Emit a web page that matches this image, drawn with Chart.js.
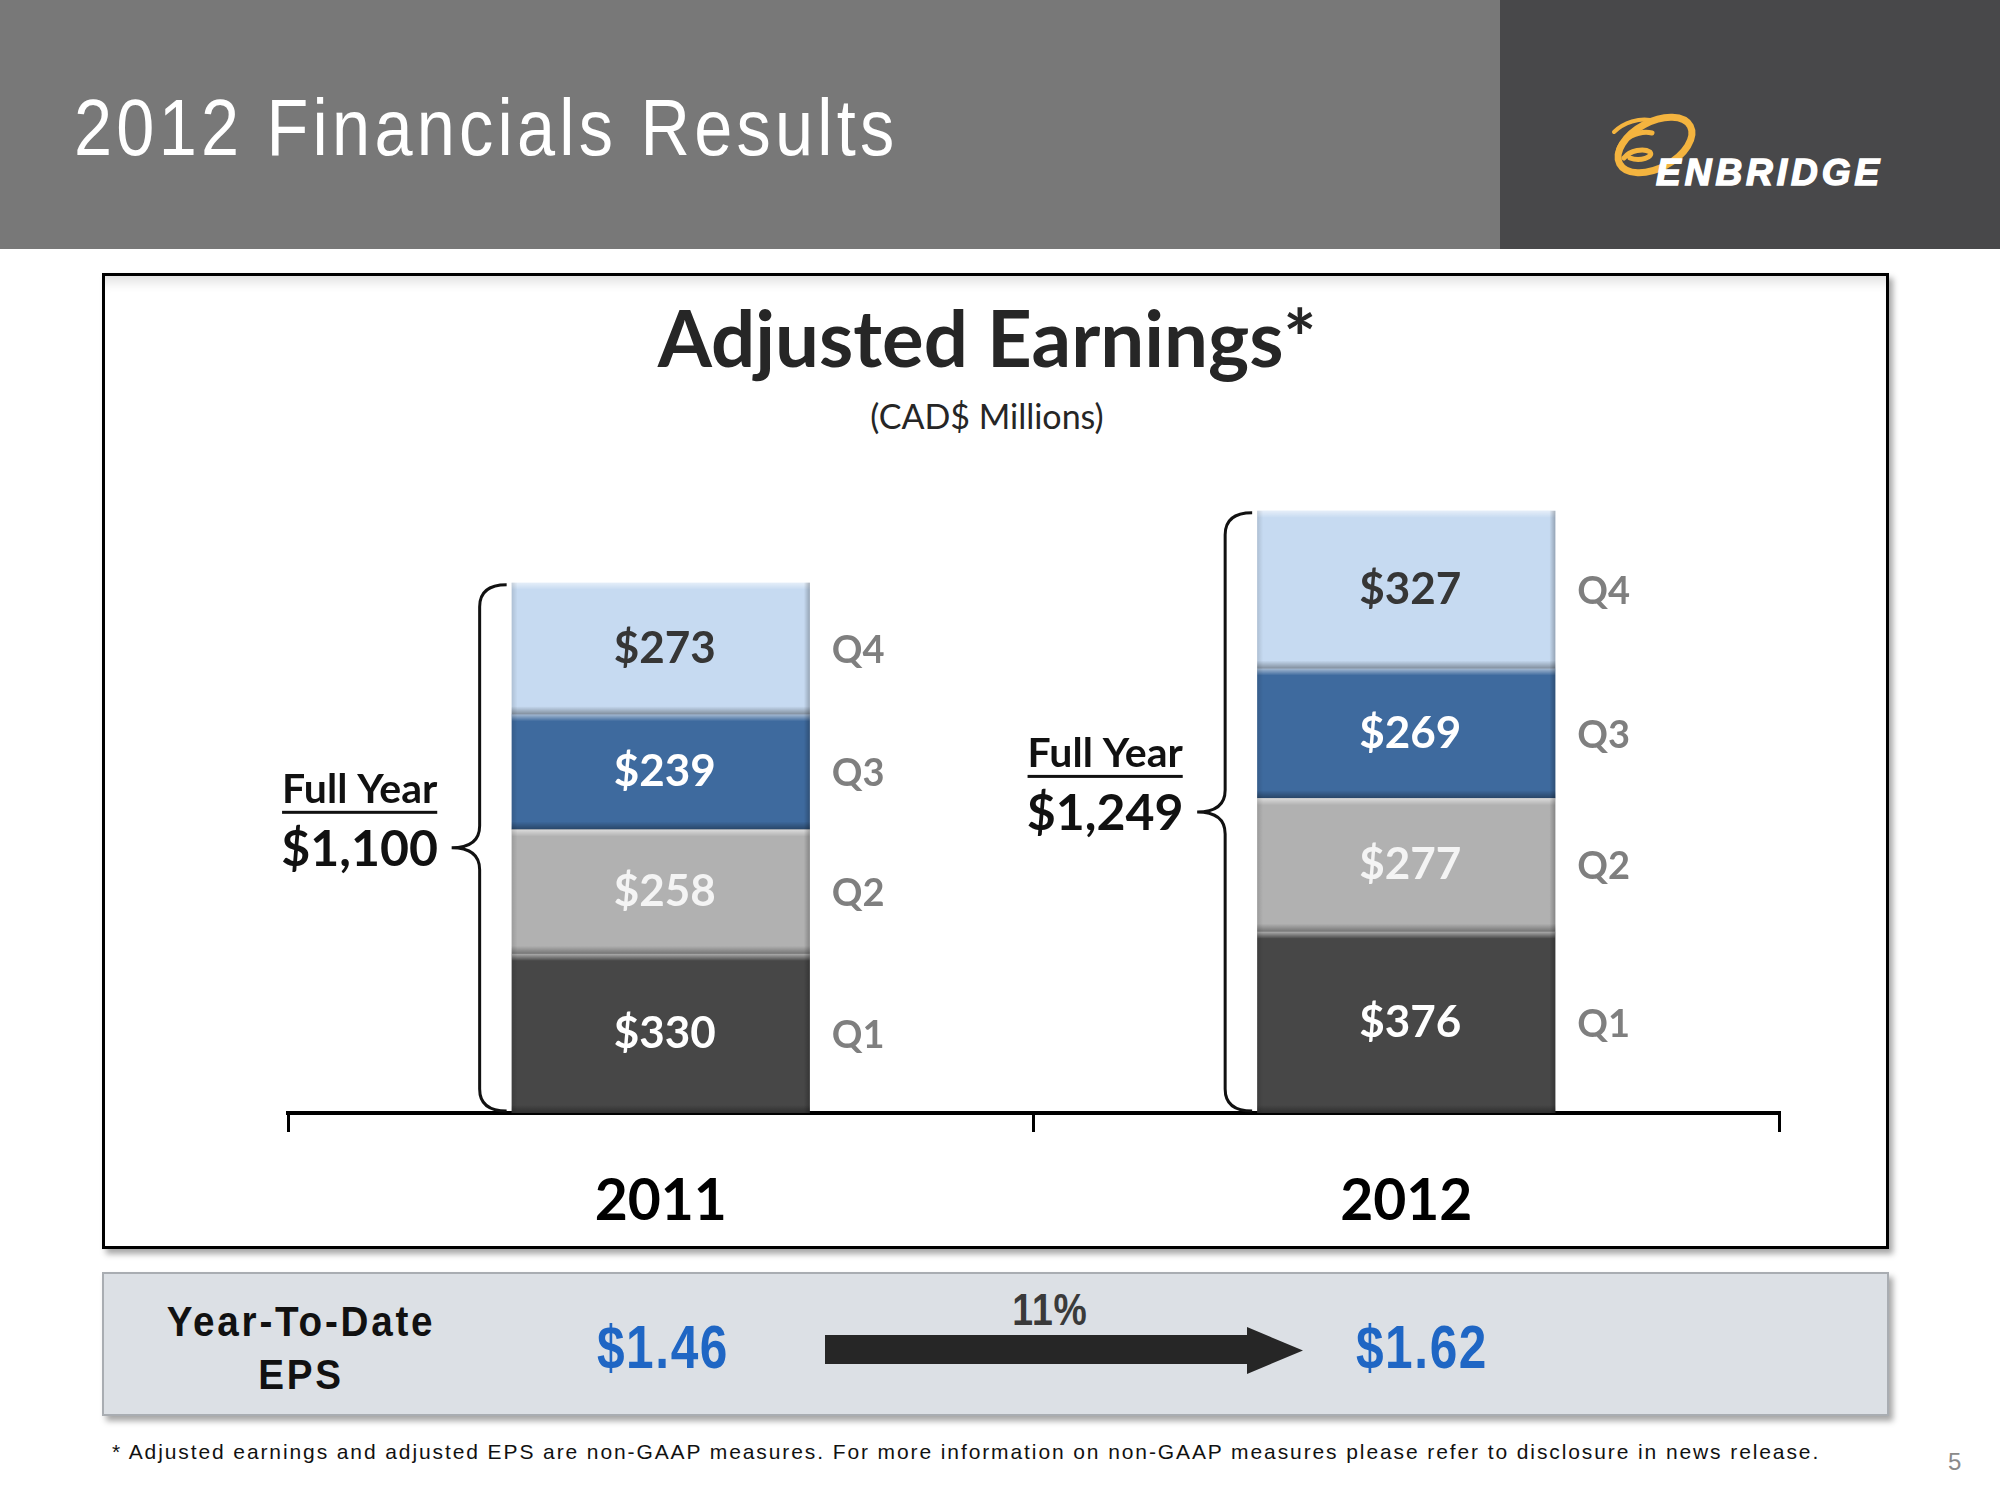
<!DOCTYPE html>
<html>
<head>
<meta charset="utf-8">
<script src="https://cdn.jsdelivr.net/npm/chart.js@4/dist/chart.umd.min.js"></script>
<style>
  html, body { margin:0; padding:0; }
  body { width:2000px; height:1500px; position:relative; background:#ffffff; overflow:hidden; font-family:"Liberation Sans", Arial, sans-serif; }
  #hdrL { position:absolute; left:0; top:0; width:1500px; height:249px; background:#787878; }
  #hdrR { position:absolute; left:1500px; top:0; width:500px; height:249px; background:#48484a; }
  #title { position:absolute; left:74px; top:88px; font-family:"Liberation Sans",Arial,sans-serif; font-size:80px; letter-spacing:5px; color:#ffffff; line-height:1; white-space:nowrap; transform:scaleX(0.855); transform-origin:0 0; }
  #logo { position:absolute; left:1600px; top:100px; }
  #box { position:absolute; left:102px; top:273px; width:1787px; height:976px; box-sizing:border-box; border:3px solid #000; background:#fff;
         box-shadow: 4px 5px 6px rgba(0,0,0,0.35), inset 0 14px 12px -8px rgba(0,0,0,0.12); }
  #chartWrap { position:absolute; left:102px; top:273px; width:1787px; height:976px; }
  #ctitle { position:absolute; left:0; width:1974px; text-align:center; top:298px; font-family:Lato, sans-serif; font-weight:bold; font-size:78px; color:#262626; line-height:1; }
  #csub { position:absolute; left:0; width:1974px; text-align:center; top:399px; font-family:Lato, sans-serif; font-size:34px; color:#262626; line-height:1; }
  #panel { position:absolute; left:102px; top:1272px; width:1787px; height:144px; box-sizing:border-box; background:#dce0e5; border:2px solid #a9adb2;
           box-shadow: 4px 5px 6px rgba(0,0,0,0.35); }
  .nar { font-family:"Liberation Sans",Arial,sans-serif; font-weight:bold; position:absolute; white-space:nowrap; line-height:1; transform-origin:50% 50%; }
  #ytd { left:101px; width:400px; text-align:center; top:1296px; font-size:42px; letter-spacing:3px; color:#111; line-height:1.25; transform:scaleX(0.92); }
  #e1 { left:563px; width:200px; text-align:center; top:1316px; font-size:62px; letter-spacing:2px; color:#1f66c4; transform:scaleX(0.8); }
  #e2 { left:1322px; width:200px; text-align:center; top:1316px; font-size:62px; letter-spacing:2px; color:#1f66c4; transform:scaleX(0.8); }
  #pct { left:970px; width:160px; text-align:center; top:1288px; font-size:44px; letter-spacing:1px; color:#3a3a3a; transform:scaleX(0.85); }
  #arrow { position:absolute; left:825px; top:1327px; }
  #foot { position:absolute; left:112px; top:1441px; font-family:"Liberation Sans", Arial, sans-serif; font-size:21px; letter-spacing:1.9px; color:#111; white-space:nowrap; line-height:1; }
  #pg { position:absolute; left:1948px; top:1450px; font-family:"Liberation Sans", Arial, sans-serif; font-size:24px; color:#8a8a8a; line-height:1; }
</style>
</head>
<body>
<div id="hdrL"></div>
<div id="hdrR"></div>
<div id="title">2012 Financials Results</div>
<svg id="logo" width="300" height="100" viewBox="0 0 300 100">
  <g fill="none" stroke="#f4b43f" stroke-linecap="round">
    <ellipse cx="55" cy="45" rx="40" ry="23" transform="rotate(-28 55 45)" stroke-width="7"/>
    <path d="M18 52 C 20 38, 40 30, 52 33" stroke-width="5"/>
    <path d="M24 58 C 30 50, 44 48, 50 52 C 54 57, 40 62, 30 58" stroke-width="5"/>
    <path d="M14 32 C 24 22, 40 18, 50 20" stroke-width="4"/>
  </g>
  <text x="56" y="85" font-family="Liberation Sans, Arial, sans-serif" font-weight="bold" font-style="italic" font-size="37" letter-spacing="4" fill="#ffffff" stroke="#ffffff" stroke-width="1.5">ENBRIDGE</text>
</svg>

<div id="box"></div>
<div id="ctitle">Adjusted Earnings*</div>
<div id="csub">(CAD$ Millions)</div>
<div id="chartWrap"><canvas id="c"></canvas></div>

<div id="panel"></div>
<div id="ytd" class="nar">Year-To-Date<br>EPS</div>
<div id="e1" class="nar">$1.46</div>
<div id="pct" class="nar">11%</div>
<svg id="arrow" width="480" height="50" viewBox="0 0 480 50">
  <polygon points="0,8 422,8 422,0 478,23.5 422,47 422,37 0,37" fill="#262626"/>
</svg>
<div id="e2" class="nar">$1.62</div>
<div id="foot">* Adjusted earnings and adjusted EPS are non-GAAP measures. For more information on non-GAAP measures please refer to disclosure in news release.</div>
<div id="pg">5</div>

<script>
// ---- data ----
const years = ["2011", "2012"];
const quarters = ["Q1", "Q2", "Q3", "Q4"];
const q1 = [330, 376];
const q2 = [258, 277];
const q3 = [239, 269];
const q4 = [273, 327];
const fullYear = ["$1,100", "$1,249"];

const colors = ["#474747", "#b1b1b1", "#3e6a9e", "#c6daf1"];
const labelColors = ["#ffffff", "#f4f4f4", "#ffffff", "#363636"];
const series = [q1, q2, q3, q4];

const FONT = "Lato, 'Open Sans', sans-serif";

const overlay = {
  id: "overlay",
  afterDatasetsDraw(chart) {
    const ctx = chart.ctx;
    // bevel effect on each bar
    chart.data.datasets.forEach((ds, di) => {
      const meta = chart.getDatasetMeta(di);
      meta.data.forEach((bar) => {
        const p = bar.getProps(["x", "y", "base", "width"], true);
        const l = p.x - p.width / 2, r = p.x + p.width / 2, t = p.y, b = p.base;
        ctx.save();
        let g = ctx.createLinearGradient(0, t, 0, t + 7);
        g.addColorStop(0, "rgba(255,255,255,0.55)");
        g.addColorStop(1, "rgba(255,255,255,0)");
        ctx.fillStyle = g; ctx.fillRect(l, t, r - l, 7);
        g = ctx.createLinearGradient(0, b - 8, 0, b);
        g.addColorStop(0, "rgba(0,0,0,0)");
        g.addColorStop(1, "rgba(0,0,0,0.35)");
        ctx.fillStyle = g; ctx.fillRect(l, b - 8, r - l, 8);
        g = ctx.createLinearGradient(l, 0, l + 6, 0);
        g.addColorStop(0, "rgba(0,0,0,0.12)");
        g.addColorStop(1, "rgba(0,0,0,0)");
        ctx.fillStyle = g; ctx.fillRect(l, t, 6, b - t);
        g = ctx.createLinearGradient(r - 6, 0, r, 0);
        g.addColorStop(0, "rgba(0,0,0,0)");
        g.addColorStop(1, "rgba(0,0,0,0.25)");
        ctx.fillStyle = g; ctx.fillRect(r - 6, t, 6, b - t);
        ctx.restore();
      });
    });
    // value labels and quarter labels
    chart.data.datasets.forEach((ds, di) => {
      const meta = chart.getDatasetMeta(di);
      meta.data.forEach((bar, i) => {
        const p = bar.getProps(["x", "y", "base", "width"], true);
        const cy = (p.y + p.base) / 2;
        ctx.save();
        ctx.textBaseline = "middle";
        ctx.textAlign = "center";
        ctx.font = "bold 44px " + FONT;
        ctx.fillStyle = labelColors[di];
        ctx.fillText("$" + ds.data[i], p.x + 4, cy);
        ctx.textAlign = "left";
        ctx.font = "bold 38px " + FONT;
        ctx.fillStyle = "#7f7f7f";
        ctx.fillText(quarters[di], p.x + p.width / 2 + 22, cy + 2);
        ctx.restore();
      });
    });
    // braces and full-year labels
    const first = chart.getDatasetMeta(0);
    const last = chart.getDatasetMeta(chart.data.datasets.length - 1);
    first.data.forEach((bar, i) => {
      const pb = bar.getProps(["x", "base", "width"], true);
      const pt = last.data[i].getProps(["y"], true);
      const left = pb.x - pb.width / 2;
      const top = pt.y + 2, bot = pb.base - 2;
      const bx = left - 32, ex = left - 5, tip = left - 60;
      const mid = (top + bot) / 2;
      ctx.save();
      ctx.strokeStyle = "#111"; ctx.lineWidth = 3;
      ctx.beginPath();
      ctx.moveTo(ex, top);
      ctx.quadraticCurveTo(bx, top, bx, top + 22);
      ctx.lineTo(bx, mid - 22);
      ctx.quadraticCurveTo(bx, mid, tip, mid);
      ctx.quadraticCurveTo(bx, mid, bx, mid + 22);
      ctx.lineTo(bx, bot - 22);
      ctx.quadraticCurveTo(bx, bot, ex, bot);
      ctx.stroke();
      // labels
      const cx = tip - 92;
      ctx.fillStyle = "#111";
      ctx.textAlign = "center";
      ctx.textBaseline = "middle";
      ctx.font = "bold 50px " + FONT;
      ctx.fillText(fullYear[i], cx, mid + 2);
      ctx.font = "bold 41px " + FONT;
      ctx.fillText("Full Year", cx, mid - 58);
      const w = ctx.measureText("Full Year").width;
      ctx.fillRect(cx - w / 2, mid - 37, w, 3);
      ctx.restore();
    });
  }
};

new Chart(document.getElementById("c"), {
  type: "bar",
  data: {
    labels: years,
    datasets: series.map((s, i) => ({
      label: quarters[i],
      data: s,
      backgroundColor: colors[i],
      borderWidth: 0,
      categoryPercentage: 1.0,
      barPercentage: 0.4
    }))
  },
  options: {
    responsive: true,
    maintainAspectRatio: false,
    animation: false,
    layout: { padding: { left: 186, right: 110, top: 165, bottom: 16 } },
    plugins: { legend: { display: false }, tooltip: { enabled: false }, title: { display: false } },
    scales: {
      x: {
        stacked: true,
        offset: true,
        grid: { display: true, drawOnChartArea: false, drawTicks: true, tickLength: 19, color: "#000", lineWidth: 3, offset: true },
        border: { display: true, color: "#000", width: 4 },
        ticks: { color: "#000", font: { family: FONT, weight: "bold", size: 57 }, padding: 35 },
        afterFit: (s) => { s.height = 120; }
      },
      y: {
        stacked: true,
        display: false,
        min: 0,
        max: 1400
      }
    }
  },
  plugins: [overlay]
});
</script>
</body>
</html>
